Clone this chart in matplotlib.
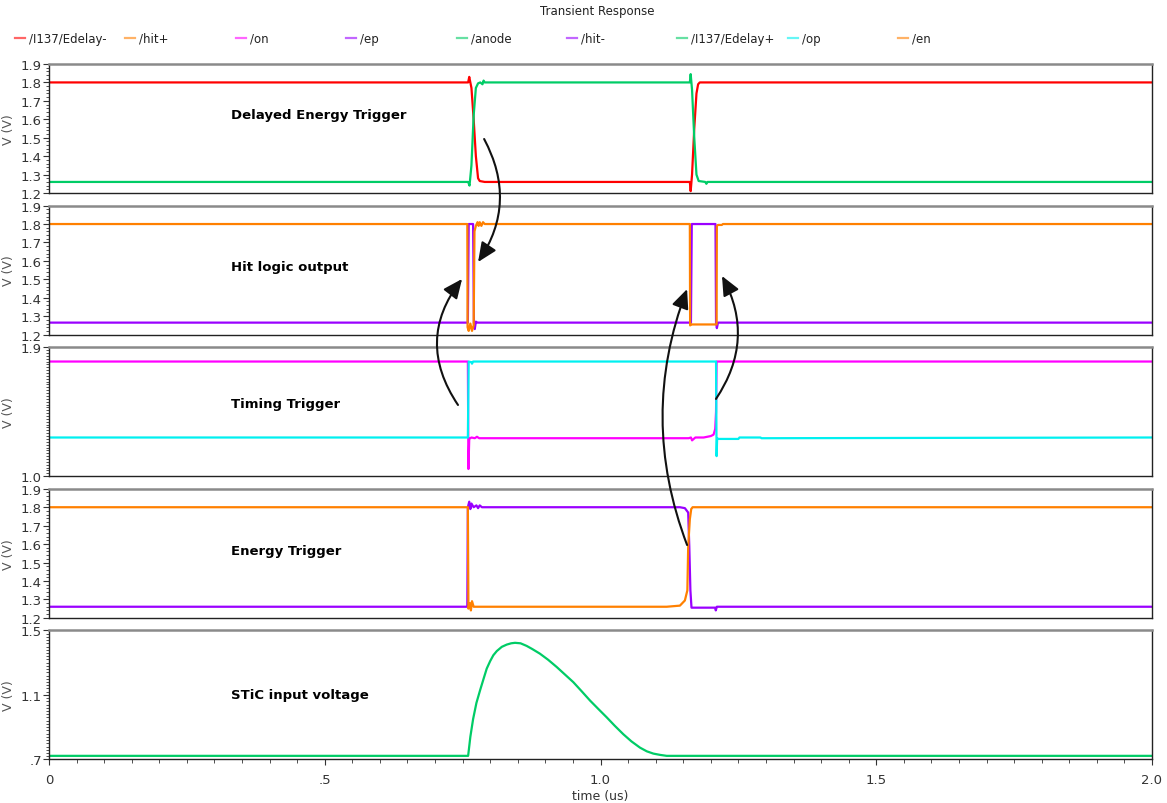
import numpy as np
import matplotlib
matplotlib.use("Agg")
import matplotlib.pyplot as plt
from matplotlib.ticker import MultipleLocator, FixedLocator, FuncFormatter
from matplotlib.patches import ConnectionPatch
from matplotlib.lines import Line2D

# ---- signals (time in us, V) ----
edelay_m_t = [0, 0.760, 0.762, 0.766, 0.770, 0.774, 0.778, 0.781, 0.79, 1.162, 1.1635, 1.166, 1.170, 1.174, 1.177, 1.18, 2.0]
edelay_m_v = [1.80, 1.80, 1.83, 1.77, 1.60, 1.40, 1.28, 1.265, 1.26, 1.26, 1.21, 1.30, 1.55, 1.74, 1.79, 1.80, 1.80]
edelay_p_t = [0, 0.760, 0.7625, 0.766, 0.770, 0.774, 0.778, 0.782, 0.786, 0.788, 0.79, 1.162, 1.1635, 1.166, 1.170, 1.174, 1.178, 1.19, 1.192, 1.194, 2.0]
edelay_p_v = [1.26, 1.26, 1.24, 1.35, 1.62, 1.77, 1.795, 1.80, 1.79, 1.81, 1.80, 1.80, 1.845, 1.76, 1.50, 1.30, 1.265, 1.26, 1.25, 1.26, 1.26]

hitp_t = [0, 0.7585, 0.759, 0.761, 0.764, 0.767, 0.770, 0.7715, 0.774, 0.777, 0.779, 0.781, 0.784, 0.787, 0.79, 1.162, 1.1625, 1.165, 1.2105, 1.211, 1.213, 1.220, 1.222, 2.0]
hitp_v = [1.80, 1.80, 1.24, 1.22, 1.26, 1.22, 1.25, 1.76, 1.79, 1.81, 1.79, 1.81, 1.79, 1.81, 1.80, 1.80, 1.25, 1.255, 1.255, 1.79, 1.795, 1.795, 1.80, 1.80]
hitm_t = [0, 0.7595, 0.761, 0.769, 0.7705, 0.772, 0.774, 0.777, 1.164, 1.1655, 1.2085, 1.2095, 1.211, 1.213, 2.0]
hitm_v = [1.265, 1.265, 1.80, 1.80, 1.265, 1.23, 1.27, 1.265, 1.265, 1.80, 1.80, 1.265, 1.235, 1.265, 1.265]

on_t = [0, 0.7595, 0.7605, 0.762, 0.766, 0.772, 0.776, 0.780, 0.79, 1.16, 1.164, 1.166, 1.172, 1.187, 1.200, 1.205, 1.208, 1.2095, 1.2105, 2.0]
on_v = [1.80, 1.80, 1.05, 1.26, 1.27, 1.265, 1.275, 1.265, 1.265, 1.265, 1.27, 1.25, 1.27, 1.27, 1.28, 1.29, 1.33, 1.45, 1.80, 1.80]
op_t = [0, 0.7595, 0.761, 0.766, 0.767, 0.769, 1.2095, 1.2105, 1.2115, 1.214, 1.25, 1.252, 1.29, 1.292, 2.0]
op_v = [1.27, 1.27, 1.80, 1.795, 1.785, 1.80, 1.80, 1.14, 1.265, 1.26, 1.26, 1.27, 1.27, 1.265, 1.27]

en_t = [0, 0.7595, 0.7605, 0.763, 0.765, 0.767, 0.770, 0.775, 1.120, 1.144, 1.153, 1.1575, 1.159, 1.162, 1.1645, 1.167, 2.0]
en_v = [1.80, 1.80, 1.25, 1.28, 1.24, 1.29, 1.26, 1.26, 1.26, 1.266, 1.294, 1.349, 1.587, 1.735, 1.79, 1.80, 1.80]
ep_t = [0, 0.7585, 0.7595, 0.762, 0.764, 0.766, 0.770, 0.775, 0.778, 0.781, 0.785, 1.144, 1.153, 1.159, 1.161, 1.163, 1.165, 1.208, 1.209, 1.211, 2.0]
ep_v = [1.26, 1.26, 1.80, 1.83, 1.79, 1.82, 1.80, 1.81, 1.795, 1.81, 1.80, 1.80, 1.795, 1.771, 1.587, 1.349, 1.255, 1.255, 1.24, 1.26, 1.26]

anode_t = [0, 0.760, 0.764, 0.769, 0.775, 0.7815, 0.788, 0.7937, 0.800, 0.8057, 0.812, 0.821, 0.830, 0.838, 0.845,
           0.855, 0.866, 0.876, 0.890, 0.905, 0.9206, 0.935, 0.9507, 0.966, 0.981, 0.996, 1.0112, 1.026, 1.0414,
           1.056, 1.0716, 1.084, 1.0958, 1.108, 1.12, 2.0]
anode_v = [0.722, 0.722, 0.84, 0.95, 1.05, 1.127, 1.20, 1.263, 1.31, 1.346, 1.372, 1.398, 1.412, 1.42, 1.423,
           1.42, 1.404, 1.385, 1.356, 1.318, 1.273, 1.228, 1.179, 1.122, 1.065, 1.013, 0.961, 0.908, 0.856,
           0.812, 0.773, 0.750, 0.736, 0.728, 0.722, 0.722]

# legend entries (name, colour) in the order shown on top
legend_names = ["/I137/Edelay-", "/hit+", "/on", "/ep", "/anode", "/hit-", "/I137/Edelay+", "/op", "/en"]
RED, ORANGE, MAG, PURP, GREEN, CYAN = "#ff0000", "#ff8000", "#ff00ff", "#9a00ff", "#00cc66", "#00f0f0"
legend_cols = [RED, ORANGE, MAG, PURP, GREEN, PURP, GREEN, CYAN, ORANGE]

panel_text = ["Delayed Energy Trigger", "Hit logic output", "Timing Trigger", "Energy Trigger", "STiC input voltage"]
text_y = [0.61, 0.53, 0.56, 0.52, 0.50]

W, H = 1167, 804
fig = plt.figure(figsize=(W/100, H/100), dpi=100)

left, right = 49, 1152
tops = [65, 206.6, 348.2, 489.8, 631.4]
ph = 129
axes = []
for top in tops:
    ax = fig.add_axes([left/W, 1 - (top+ph)/H, (right-left)/W, ph/H])
    axes.append(ax)

series = [
    [(edelay_m_t, edelay_m_v, RED), (edelay_p_t, edelay_p_v, GREEN)],
    [(hitm_t, hitm_v, PURP), (hitp_t, hitp_v, ORANGE)],
    [(on_t, on_v, MAG), (op_t, op_v, CYAN)],
    [(ep_t, ep_v, PURP), (en_t, en_v, ORANGE)],
    [(anode_t, anode_v, GREEN)],
]
ylims = [(1.2, 1.9), (1.2, 1.9), (1.0, 1.9), (1.2, 1.9), (0.7, 1.5)]

def fmt(v, pos=None):
    if abs(v) < 1e-9:
        return "0"
    s = "%.1f" % v
    return s[1:] if s.startswith("0") else s

for i, ax in enumerate(axes):
    for t, v, c in series[i]:
        ax.plot(t, v, color=c, lw=1.6)
    ax.set_xlim(0, 2.0)
    ax.set_ylim(*ylims[i])
    if i == 2:
        ax.yaxis.set_major_locator(FixedLocator([1.0, 1.9]))
    elif i == 4:
        ax.yaxis.set_major_locator(FixedLocator([0.7, 1.1, 1.5]))
    else:
        ax.yaxis.set_major_locator(MultipleLocator(0.1))
    ax.yaxis.set_minor_locator(MultipleLocator(0.02))
    ax.yaxis.set_major_formatter(FuncFormatter(fmt))
    ax.xaxis.set_major_locator(MultipleLocator(0.5))
    ax.xaxis.set_minor_locator(MultipleLocator(0.05))
    ax.xaxis.set_major_formatter(FuncFormatter(fmt))
    ax.tick_params(axis="y", which="major", length=4, width=0.8, labelsize=9.5, colors="#333333", pad=1)
    ax.tick_params(axis="y", which="minor", length=2, width=0.6, colors="#333333")
    ax.tick_params(axis="x", which="major", length=4, width=0.8, labelsize=9.5, colors="#333333", pad=6)
    ax.tick_params(axis="x", which="minor", length=3, width=0.6, colors="#333333")
    if i < 4:
        ax.tick_params(axis="x", which="both", bottom=False, labelbottom=False)
    for s in ["left", "right", "bottom"]:
        ax.spines[s].set_color("#222222")
        ax.spines[s].set_linewidth(1.0)
    ax.spines["top"].set_color("#8a8a8a")
    ax.spines["top"].set_linewidth(1.8)
    ax.set_ylabel("V (V)", fontsize=9, color="#555555")
    ax.yaxis.set_label_coords(-0.031, 0.5)
    ax.text(0.165, text_y[i], panel_text[i], transform=ax.transAxes, fontsize=9.5,
            fontweight="bold", ha="left", va="center")

axes[4].set_xlabel("time (us)", fontsize=9, color="#333333", labelpad=2)

# title + legend row
fig.text(597/W, 1 - 12/H, "Transient Response", ha="center", va="center", fontsize=8.5, color="#222222")
for k, name in enumerate(legend_names):
    x0 = 15 + 110.4*k
    y0 = 1 - 39/H
    fig.add_artist(Line2D([x0/W, (x0+10)/W], [y0, y0], color=legend_cols[k], lw=1.6, alpha=0.6))
    fig.text((x0+14)/W, y0, name, ha="left", va="center", fontsize=8.5, color="#222222")

# curved annotation arrows between panels
arrows = [
    ((0.789, 1.493), axes[0], (0.778, 1.594), axes[1], -0.30),
    ((0.7416, 1.497), axes[2], (0.749, 1.502), axes[1], -0.36),
    ((1.157, 1.595), axes[3], (1.157, 1.447), axes[1], -0.19),
    ((1.2094, 1.539), axes[2], (1.2203, 1.518), axes[1], 0.30),
]
for xyA, axA, xyB, axB, rad in arrows:
    con = ConnectionPatch(xyA=xyA, coordsA=axA.transData, xyB=xyB, coordsB=axB.transData,
                          arrowstyle="-|>,head_length=0.9,head_width=0.4",
                          connectionstyle="arc3,rad=%.2f" % rad,
                          color="#111111", lw=1.5, mutation_scale=13)
    fig.add_artist(con)

fig.savefig("out.png", dpi=100)
